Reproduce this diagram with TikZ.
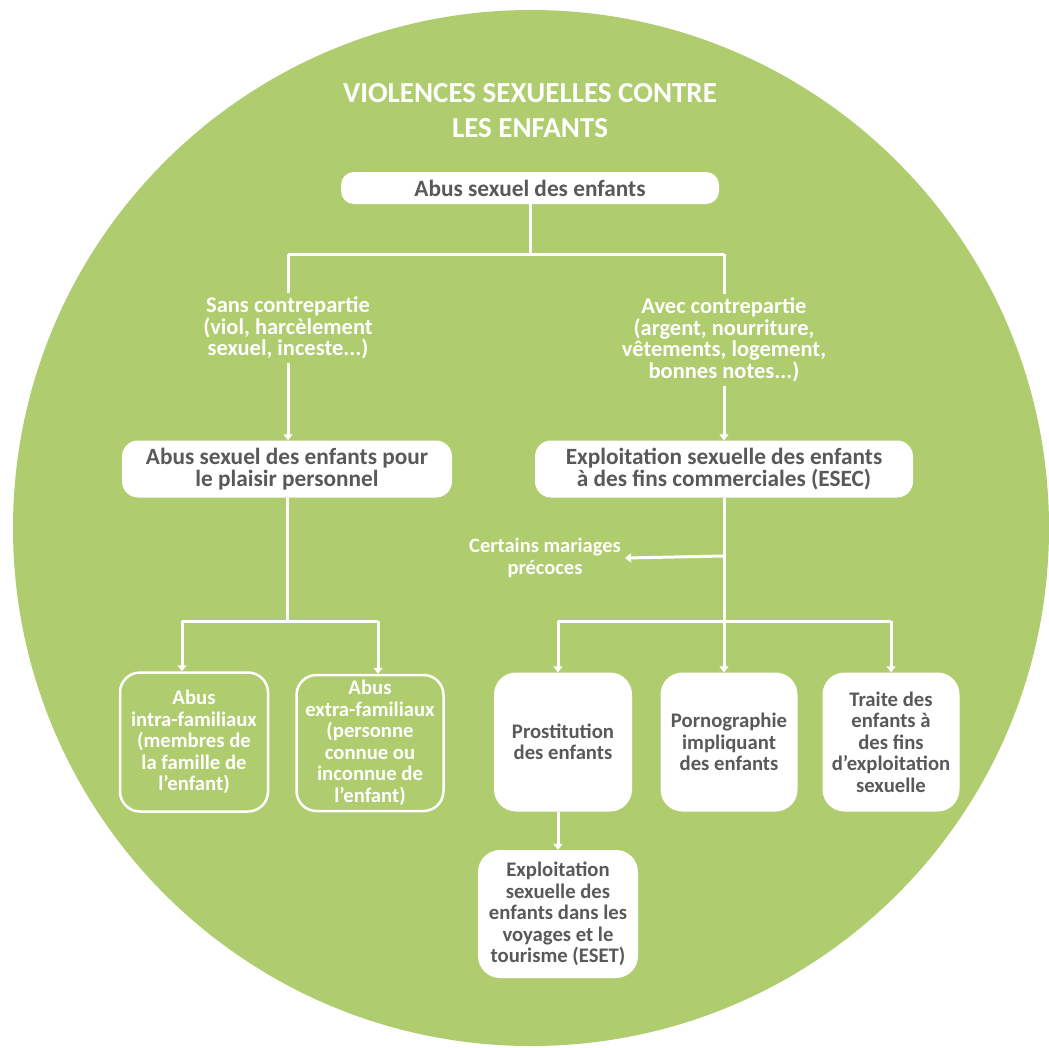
\documentclass[tikz,border=0pt]{standalone}
\usepackage{fontspec}
\setmainfont{Carlito}
\usetikzlibrary{arrows.meta}
\definecolor{vert}{RGB}{175,205,110}
\definecolor{gris}{RGB}{88,89,91}

\begin{document}
\begin{tikzpicture}[x=1pt,y=-1pt,
    boite/.style={fill=white,rounded corners=13pt,text=gris,align=center,inner sep=0pt,
      font=\bfseries\fontsize{23.3}{22}\selectfont},
    petite/.style={boite,rounded corners=22pt,font=\bfseries\fontsize{20.7}{21.5}\selectfont},
    cadre/.style={draw=white,line width=2.5pt,rounded corners=20pt,text=white,align=center,inner sep=0pt,
      font=\bfseries\fontsize{20.7}{21.5}\selectfont},
    lbl/.style={text=white,align=center,inner sep=4pt,font=\bfseries\fontsize{22.5}{21.5}\selectfont},
    fl/.style={draw=white,line width=3pt},
    >={Triangle[width=9pt,length=6pt]}]
    \useasboundingbox (0,0) rectangle (1049,1047);
    \fill[vert] (531,528) circle[radius=518];

    \node[text=white,align=center,font=\bfseries\fontsize{29}{35}\selectfont] (t) at (530,111)
      {VIOLENCES SEXUELLES CONTRE\\LES ENFANTS};

    \node[boite,minimum width=378,minimum height=32] (a) at (530,188) {Abus sexuel des enfants};
    \node[lbl] (s) at (288,328) {Sans contrepartie\\(viol, harcèlement\\sexuel, inceste...)};
    \node[lbl] (v) at (724,340) {Avec contrepartie\\(argent, nourriture,\\vêtements, logement,\\bonnes notes...)};
    \node[boite,rounded corners=16pt,minimum width=330,minimum height=57] (b) at (287,469)
      {Abus sexuel des enfants pour\\le plaisir personnel};
    \node[boite,rounded corners=16pt,minimum width=378,minimum height=57] (c) at (724,469)
      {Exploitation sexuelle des enfants\\à des fins commerciales (ESEC)};
    \node[lbl,font=\bfseries\fontsize{20.5}{22}\selectfont] (m) at (545,558) {Certains mariages\\précoces};
    \node[cadre,minimum width=148,minimum height=139] (d) at (194,742)
      {Abus\\intra-familiaux\\(membres de\\la famille de\\l'enfant)};
    \node[cadre,minimum width=147,minimum height=136] (e) at (370,743)
      {Abus\\extra-familiaux\\(personne\\connue ou\\inconnue de\\l'enfant)};
    \node[petite,minimum width=138,minimum height=139] (f) at (563,742)
      {Prostitution\\des enfants};
    \node[petite,minimum width=137,minimum height=139] (g) at (729,742)
      {Pornographie\\impliquant\\des enfants};
    \node[petite,minimum width=137,minimum height=139] (h) at (891,742)
      {Traite des\\enfants à\\des fins\\d'exploitation\\sexuelle};
    \node[petite,minimum width=160,minimum height=128] (i) at (558,914)
      {Exploitation\\sexuelle des\\enfants dans les\\voyages et le\\tourisme (ESET)};

    \coordinate (ga) at (288,254);
    \coordinate (da) at (724,254);
    \coordinate (gb) at (182,621);
    \coordinate (db) at (378,621);
    \coordinate (gc) at (558,621);
    \coordinate (dc) at (891,621);
    \coordinate (mc) at (724,556);

    \draw[fl] (a) -- (a |- ga);
    \draw[fl] (ga) -- (da);
    \draw[fl] (ga) -- (s);
    \draw[fl] (da) -- (v);
    \draw[fl,->] (s) -- (s |- b.north);
    \draw[fl,->] (v) -- (c);
    \draw[fl] (b) -- (b |- gb);
    \draw[fl] (gb) -- (db);
    \draw[fl,->] (gb) -- (gb |- d.north);
    \draw[fl,->] (db) -- (db |- e.north);
    \draw[fl,->] (c) -- (c |- g.north);
    \draw[fl,->] (mc) -- (m.east);
    \draw[fl] (gc) -- (dc);
    \draw[fl,->] (gc) -- (gc |- f.north);
    \draw[fl,->] (dc) -- (dc |- h.north);
    \draw[fl,->] (f.south -| gc) -- (gc |- i.north);
\end{tikzpicture}
\end{document}
